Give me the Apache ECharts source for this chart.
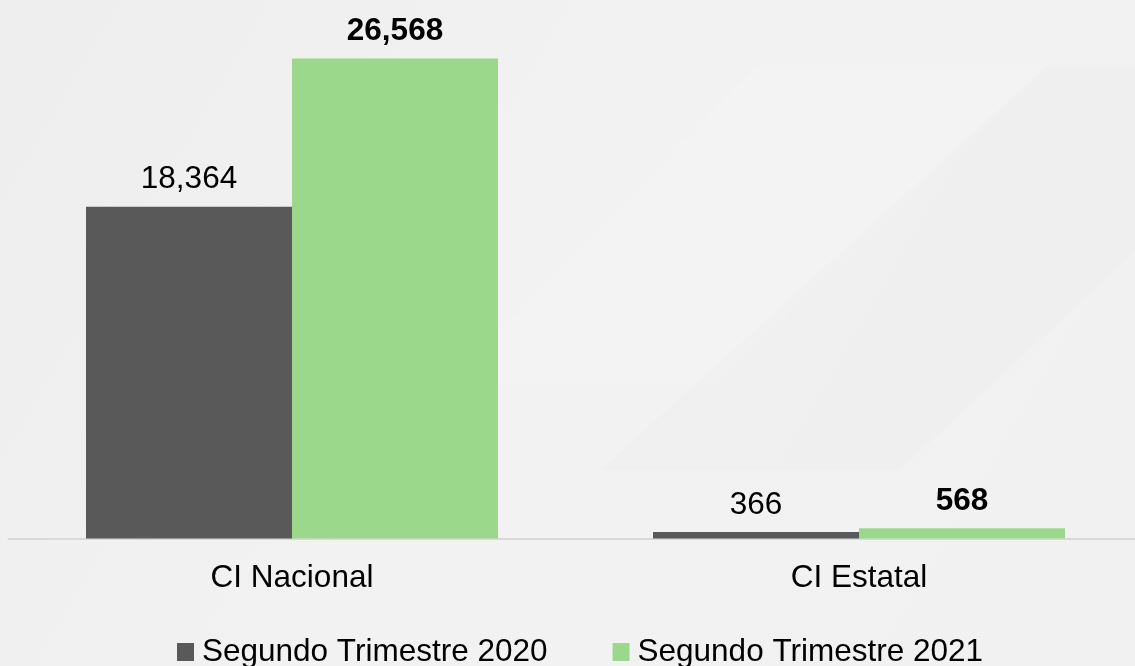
<!DOCTYPE html>
<html>
<head>
<meta charset="utf-8">
<style>
  html, body { margin: 0; padding: 0; overflow: hidden; width: 1135px; height: 666px; }
  #chart { width: 1143px; height: 666px; }
</style>
<script src="https://cdn.jsdelivr.net/npm/echarts@6/dist/echarts.min.js"></script>
</head>
<body>
<div id="chart"></div>
<script>
// Categories and series values
const categories = ['CI Nacional', 'CI Estatal'];
const seriesNames = ['Segundo Trimestre 2020', 'Segundo Trimestre 2021'];
const values2020 = [18364, 366];
const values2021 = [26568, 568];

const FONT = '"Liberation Sans", Arial, sans-serif';
const FS = 31.5;
const fmt = v => v.toLocaleString('en-US');

const chart = echarts.init(document.getElementById('chart'));

chart.setOption({
  backgroundColor: {
    type: 'linear', x: 0, y: 0, x2: 1, y2: 1,
    colorStops: [
      { offset: 0, color: '#eeeeee' },
      { offset: 0.45, color: '#f2f2f2' },
      { offset: 1, color: '#f1f1f1' }
    ]
  },
  graphic: [
    // faint diagonal panels in the backdrop
    { type: 'polygon', silent: true, z: -10,
      shape: { points: [[760, 64], [1047, 65], [720, 383], [450, 383]] },
      style: { fill: 'rgba(255,255,255,0.12)' } },
    { type: 'polygon', silent: true, z: -10,
      shape: { points: [[1047, 65], [1143, 65], [1143, 245], [900, 470], [600, 470]] },
      style: { fill: 'rgba(0,0,0,0.008)' } }
  ],
  textStyle: { fontFamily: FONT },
  animation: false,
  grid: { left: 8.5, width: 1134, top: 0, bottom: 127.5, containLabel: false },
  legend: {
    data: seriesNames,
    left: 177,
    top: 636,
    padding: 0,
    itemWidth: 17,
    itemHeight: 18,
    itemGap: 65,
    icon: 'rect',
    textStyle: { fontFamily: FONT, fontSize: FS, color: '#000', padding: [0, 0, 0, 3] }
  },
  xAxis: {
    type: 'category',
    data: categories,
    axisLine: { show: true, lineStyle: { color: '#d9d9d9', width: 2 } },
    axisTick: { show: false },
    axisLabel: { fontFamily: FONT, fontSize: FS, color: '#000', margin: 24 }
  },
  yAxis: {
    type: 'value',
    min: 0,
    max: 29800,
    show: false,
    splitLine: { show: false }
  },
  series: [
    {
      name: seriesNames[0],
      type: 'bar',
      data: values2020,
      barWidth: 206,
      barGap: '0%',
      itemStyle: { color: '#595959' },
      label: {
        show: true, position: 'top', distance: 11,
        fontFamily: FONT, fontSize: FS, color: '#000',
        formatter: p => fmt(p.value)
      }
    },
    {
      name: seriesNames[1],
      type: 'bar',
      data: values2021,
      barWidth: 206,
      barGap: '0%',
      itemStyle: { color: '#9bd88b' },
      label: {
        show: true, position: 'top', distance: 11,
        fontFamily: FONT, fontSize: FS, fontWeight: 'bold', color: '#000',
        formatter: p => fmt(p.value)
      }
    }
  ]
});
</script>
</body>
</html>
